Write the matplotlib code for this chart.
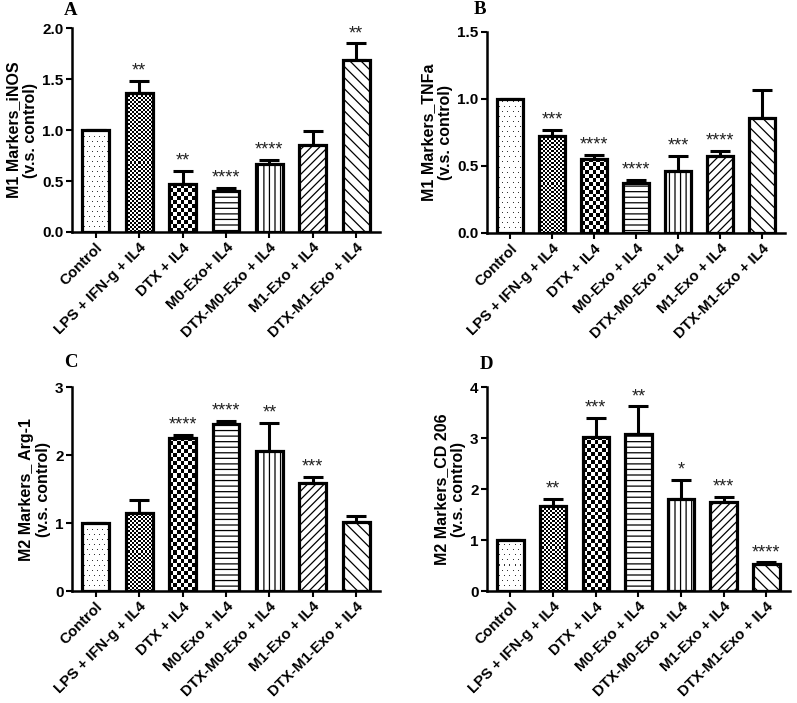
import numpy as np
import matplotlib
matplotlib.use('Agg')
import matplotlib.pyplot as plt

plt.rcParams['font.family'] = ['Liberation Sans', 'DejaVu Sans']
plt.rcParams['hatch.linewidth'] = 0.9

groups = ['Control', 'LPS + IFN-g + IL4', 'DTX + IL4', 'M0-Exo+ IL4',
          'DTX-M0-Exo + IL4', 'M1-Exo + IL4', 'DTX-M1-Exo + IL4']
groups_b = ['Control', 'LPS + IFN-g + IL4', 'DTX + IL4', 'M0-Exo + IL4',
            'DTX-M0-Exo + IL4', 'M1-Exo + IL4', 'DTX-M1-Exo + IL4']

# panel A - iNOS
inos = [1.0, 1.36, 0.47, 0.40, 0.67, 0.85, 1.69]
inos_err = [0, 0.12, 0.13, 0.03, 0.035, 0.14, 0.16]
inos_sig = ['', '**', '**', '****', '****', '', '**']

# panel B - TNFa
tnfa = [1.0, 0.72, 0.555, 0.375, 0.465, 0.575, 0.86]
tnfa_err = [0, 0.05, 0.03, 0.02, 0.11, 0.035, 0.205]
tnfa_sig = ['', '***', '****', '****', '***', '****', '']

# panel C - Arg-1
arg1 = [1.0, 1.15, 2.25, 2.46, 2.06, 1.59, 1.01]
arg1_err = [0, 0.19, 0.05, 0.04, 0.41, 0.09, 0.09]
arg1_sig = ['', '', '****', '****', '**', '***', '']

# panel D - CD 206
cd206 = [1.0, 1.66, 3.02, 3.07, 1.80, 1.74, 0.52]
cd206_err = [0, 0.15, 0.38, 0.55, 0.38, 0.11, 0.04]
cd206_sig = ['', '**', '***', '**', '*', '***', '****']

# fill style of each group: hatch string, or pixel pattern drawn as image
hatches = [None, None, None, '---', '|||', '////', '\\\\\\']
pixfill = [('dots', 5), ('checker', 2), ('checker', 4), None, None, None, None]


def pattern_fill(ax, bar, kind, cell):
    x0, y0 = bar.get_x(), bar.get_y()
    x1, y1 = x0 + bar.get_width(), y0 + bar.get_height()
    p0 = ax.transData.transform((x0, y0))
    p1 = ax.transData.transform((x1, y1))
    if kind == 'checker':
        nx = max(1, int(round(abs(p1[0] - p0[0]) / cell)))
        ny = max(1, int(round(abs(p1[1] - p0[1]) / cell)))
        pat = (np.indices((ny, nx)).sum(axis=0) % 2).astype(float)
    else:
        nx = max(1, int(round(abs(p1[0] - p0[0]))))
        ny = max(1, int(round(abs(p1[1] - p0[1]))))
        pat = np.ones((ny, nx))
        for r in range(0, ny, cell):
            off = (r // cell) % 2 * (cell // 2)
            pat[r, off::cell] = 0.2
    im = ax.imshow(pat, cmap='gray', vmin=0, vmax=1, extent=(x0, x1, y0, y1),
                   aspect='auto', interpolation='nearest', origin='lower', zorder=1.5)
    im.set_clip_path(bar)
    bar.set_facecolor('none')


def panel(rect, vals, errs, sig, ymax, step, fmt, ylabel, letter, lpos, labels):
    ax = fig.add_axes(rect)
    x = np.arange(len(vals))
    ax.set_xlim(-0.55, len(vals) - 0.45)
    ax.set_ylim(0, ymax)
    bars = ax.bar(x, vals, width=0.62, color='white', edgecolor='black',
                  linewidth=2.3, zorder=2)
    for b, h in zip(bars, hatches):
        if h:
            b.set_hatch(h)
    for b, p in zip(bars, pixfill):
        if p:
            pattern_fill(ax, b, p[0], p[1])
    ax.set_xlim(-0.55, len(vals) - 0.45)
    ax.set_ylim(0, ymax)
    lo = [0] * len(vals)
    ax.errorbar(x, vals, yerr=[lo, errs], fmt='none', ecolor='black',
                elinewidth=2.2, capsize=7, capthick=2.2, zorder=1)
    for xi, v, e, s in zip(x, vals, errs, sig):
        if s:
            ax.annotate(s, (xi, v + e), xytext=(0, 1), textcoords='offset points',
                        ha='center', va='bottom', fontsize=13, color='#222222')
    for sp in ['top', 'right']:
        ax.spines[sp].set_visible(False)
    for sp in ['left', 'bottom']:
        ax.spines[sp].set_linewidth(1.8)
    ax.set_yticks(np.arange(0, ymax + 1e-9, step))
    ax.set_yticklabels([fmt % t for t in np.arange(0, ymax + 1e-9, step)])
    ax.set_xticks(x)
    ax.set_xticklabels(labels, rotation=45, ha='right', rotation_mode='anchor')
    ax.tick_params(width=1.5, length=4, pad=2)
    ax.tick_params(axis='x', labelsize=10.8)
    ax.tick_params(axis='y', labelsize=11)
    for t in ax.get_xticklabels() + ax.get_yticklabels():
        t.set_fontweight('bold')
    ax.set_ylabel(ylabel, fontsize=11.5, fontweight='bold', labelpad=3)
    ax.text(lpos[0], lpos[1], letter, transform=ax.transAxes, ha='center',
            va='center', fontsize=13.5, fontweight='bold', family='Liberation Serif')
    return ax


fig = plt.figure(figsize=(7.97, 7.03), dpi=100)

panel([0.0903, 0.670, 0.3865, 0.290], inos, inos_err, inos_sig, 2.0, 0.5, '%.1f',
      'M1 Markers_iNOS\n(v.s. control)', 'A', (-0.005, 1.088), groups)
panel([0.611, 0.6686, 0.374, 0.286], tnfa, tnfa_err, tnfa_sig, 1.5, 0.5, '%.1f',
      'M1 Markers_TNFa\n(v.s. control)', 'B', (-0.024, 1.11), groups_b)
panel([0.0903, 0.1593, 0.3865, 0.2902], arg1, arg1_err, arg1_sig, 3, 1, '%d',
      'M2 Markers_ Arg-1\n(v.s. control)', 'C', (-0.005, 1.12), groups_b)
panel([0.611, 0.1593, 0.380, 0.2902], cd206, cd206_err, cd206_sig, 4, 1, '%d',
      'M2 Markers_CD 206\n(v.s. control)', 'D', (-0.003, 1.108), groups_b)

fig.savefig('out.png', dpi=100)
